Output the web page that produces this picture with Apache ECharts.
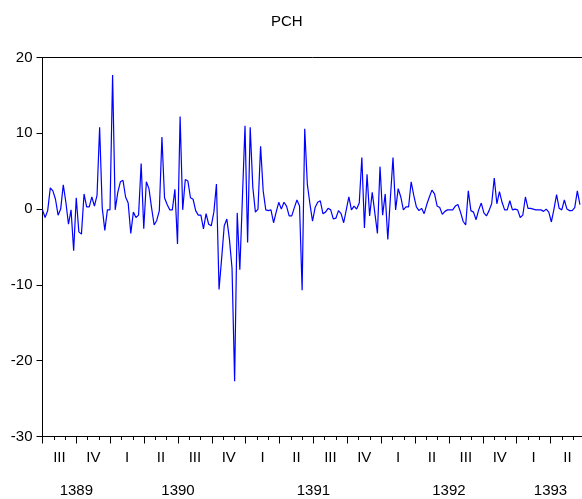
<!DOCTYPE html>
<html>
<head>
<meta charset="utf-8">
<script src="https://cdn.jsdelivr.net/npm/echarts@6/dist/echarts.min.js"></script>
<style>
  html, body { margin: 0; padding: 0; background: #fff; }
  #chart { width: 582px; height: 499px; }
</style>
</head>
<body>
<div id="chart"></div>
<script>
// 周度 PCH 序列（从 1389 年第三季度开始，每周一个值）
const pch = [
  -0.1, -1.1, -0.2, 2.8, 2.4, 1.3, -0.8, 0, 3.2, 0.9, -2.0, -0.1, -5.5, 1.5, -3.0, -3.3, 2.0, 0.3, 0.3, 1.6, 0.4, 1.8, 10.8, 0.2, -2.8, -0.1, -0.1, 17.7, -0.1, 2.2, 3.6, 3.8, 1.6, 0.8,
  -3.2, -0.4, -1.1, -0.8, 6.0, -2.6, 3.6, 2.7, 0.2, -2.1, -1.5, -0.2, 9.5, 1.5, 0.6, -0.1, -0.1, 2.6, -4.6, 12.2, -0.1, 3.9, 3.7, 1.5, 1.3, -0.2, -0.8, -0.8, -2.6, -0.6, -2.0, -2.2, -0.4, 3.3, -10.6,
  -6.5, -2.2, -1.3, -4.0, -7.8, -22.7, -0.5, -8.0, 1.5, 11.0, -4.4, 10.8, 2.9, -0.4, 0, 8.3, 2.4, -0.1, -0.2, -0.1, -1.8, -0.4, 0.9, 0, 0.9, 0.4, -0.9, -0.9, 0.2, 1.2, 0.4, -10.7, 10.6, 3.3, 0.7,
  -1.6, 0.2, 0.9, 1.1, -0.6, -0.4, 0.1, -0.1, -1.3, -1.2, -0.2, -0.6, -1.8, -0.1, 1.6, -0.1, 0.4, 0, 0.8, 6.8, -2.5, 4.6, -0.9, 2.2, -0.5, -3.2, 5.6, -0.8, 2.0, -4.0, 1.5, 6.8, -0.1, 2.7,
  1.6, -0.1, 0.3, 0.3, 3.6, 1.8, 0.3, -0.2, 0.1, -0.6, 0.6, 1.6, 2.5, 2.0, 0.4, 0.2, -0.7, -0.3, -0.1, -0.1, -0.1, 0.4, 0.6, -0.4, -1.6, -2.1, 2.4, -0.2, -0.4, -1.4, -0.1, 0.8, -0.5, -0.9, -0.2,
  0.7, 4.1, 0.7, 2.3, 0.9, -0.1, -0.1, 1.1, -0.1, 0, -0.1, -1.1, -0.8, 1.6, 0.1, 0.1, 0, -0.1, -0.1, -0.1, -0.3, 0, -0.4, -1.7, 0, 1.9, 0.1, -0.1, 1.2, 0, -0.2, -0.2, 0.2, 2.4, 0.6
];

// 时间轴：起点 1389 年第 7 个月，终点 1393 年第 6 个月
const years = [1389, 1390, 1391, 1392, 1393];
const quarterNames = ['I', 'II', 'III', 'IV'];
const startYear = 1389, startMonth = 7;
const endYear = 1393, endMonth = 6;

const WEEKS_PER_YEAR = 52.18;
const totalMonths = (endYear - startYear) * 12 + endMonth - startMonth + 1; // 48
const seriesData = pch.map((v, i) => [i * 12 / WEEKS_PER_YEAR, v]);

// 季度标签：位于每个季度的中点（1.5 个月的奇数倍）
function quarterLabel(v) {
  const k = Math.round(v / 1.5);
  if (k % 2 === 0) return '';
  const q = (k - 1) / 2;                          // 从起点起第几个季度
  const absQ = Math.floor((startMonth - 1) / 3) + q;
  return quarterNames[absQ % 4];
}

// 年份标签：位于每年在轴上可见部分的中点
function yearLabel(v) {
  for (const y of years) {
    const s = Math.max(0, (y - startYear) * 12 - (startMonth - 1));
    const e = Math.min(totalMonths, s === 0 ? 12 - (startMonth - 1) : s + 12);
    if (Math.abs((s + e) / 2 - v) < 0.01) return String(y);
  }
  return '';
}

const font = 'Liberation Sans, Arial, sans-serif';
const chart = echarts.init(document.getElementById('chart'));

chart.setOption({
  animation: false,
  title: {
    text: 'PCH', left: 266, top: 9,
    textStyle: { fontFamily: font, fontSize: 15, fontWeight: 'normal', color: '#000' }
  },
  grid: {
    left: 42.5, right: -2.4, top: 57.5, bottom: 62.5,
    outerBoundsMode: 'none', containLabel: false,
    show: true, borderColor: '#000', borderWidth: 1, backgroundColor: 'transparent'
  },
  xAxis: [
    {
      // 主轴：季度长刻度 + 月度短刻度
      type: 'value', position: 'bottom', min: 0, max: totalMonths, interval: 3,
      axisLine: { onZero: false, lineStyle: { color: '#000', width: 1 } },
      axisTick: { show: true, length: 7, lineStyle: { color: '#000' } },
      minorTick: { show: true, splitNumber: 3, length: 3.5, lineStyle: { color: '#000' } },
      axisLabel: { show: false },
      splitLine: { show: false }
    },
    {
      // 季度罗马数字
      type: 'value', position: 'bottom', offset: 0, min: 0, max: totalMonths, interval: 1.5,
      axisLine: { show: false, onZero: false }, axisTick: { show: false }, splitLine: { show: false },
      axisLabel: { margin: 14, color: '#000', fontFamily: font, fontSize: 15, formatter: quarterLabel, hideOverlap: false }
    },
    {
      // 年份
      type: 'value', position: 'bottom', offset: 0, min: 0, max: totalMonths, interval: 3,
      axisLine: { show: false, onZero: false }, axisTick: { show: false }, splitLine: { show: false },
      axisLabel: { margin: 47, color: '#000', fontFamily: font, fontSize: 15, formatter: yearLabel, hideOverlap: false }
    }
  ],
  yAxis: {
    type: 'value', min: -30, max: 20, interval: 10,
    axisLine: { show: true, onZero: false, lineStyle: { color: '#000', width: 1 } },
    axisTick: { show: true, length: 6, lineStyle: { color: '#000' } },
    axisLabel: { margin: 10, color: '#000', fontFamily: font, fontSize: 15 },
    splitLine: { show: false }
  },
  series: [{
    name: 'PCH',
    type: 'line',
    xAxisIndex: 0,
    data: seriesData,
    showSymbol: false,
    lineStyle: { color: '#0000ff', width: 1.2 },
    clip: true
  }]
});
</script>
</body>
</html>
